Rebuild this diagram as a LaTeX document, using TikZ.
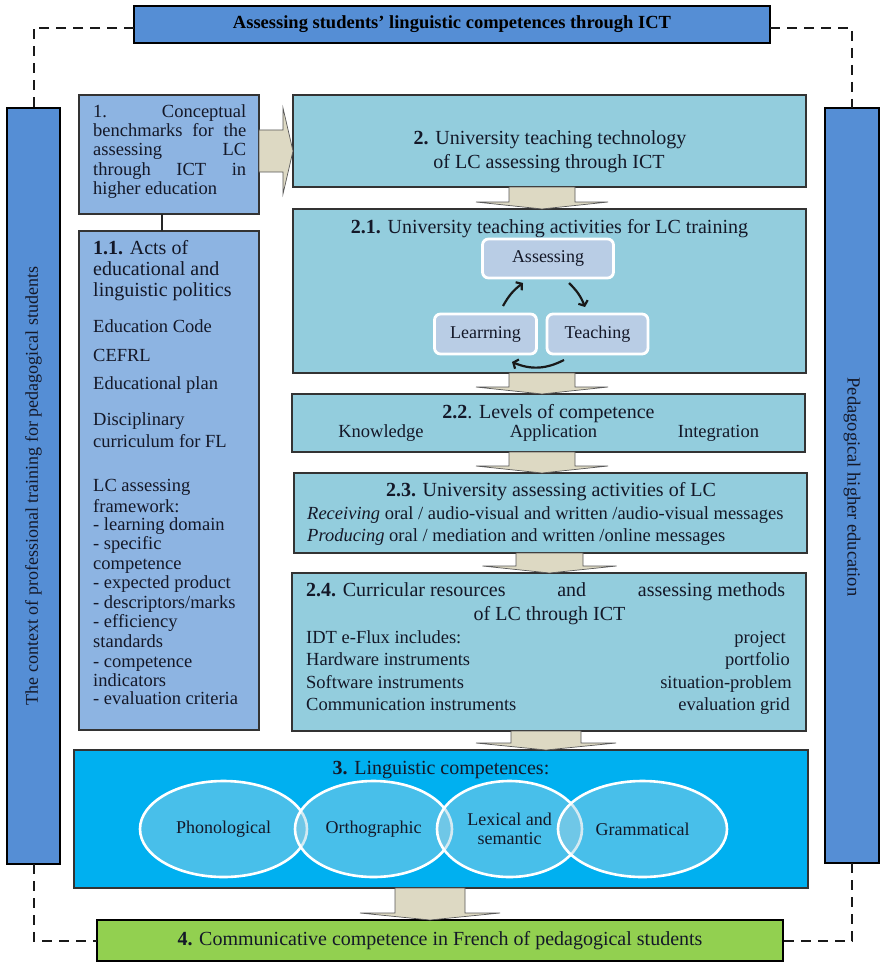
\documentclass[tikz,border=0pt]{standalone}
\usepackage{fontspec}
\setmainfont{Liberation Serif}
\usetikzlibrary{calc,shapes.geometric,arrows.meta}
\definecolor{sideblue}{HTML}{558ED5}
\definecolor{lblue}{HTML}{8DB4E2}
\definecolor{boxteal}{HTML}{93CDDD}
\definecolor{innerfill}{HTML}{B9CDE5}
\definecolor{cyanbox}{HTML}{00B0F0}
\definecolor{greenbox}{HTML}{92D050}
\definecolor{arrowtan}{HTML}{DDD9C3}
\definecolor{ellfill}{HTML}{A0D2E4}
\definecolor{txt}{HTML}{141828}
\newcommand\bodyfont{\fontsize{18.5}{21}\selectfont}
\newcommand\titlefont{\fontsize{20}{23}\selectfont}
\newcommand\blockdown[4]{%
  \draw[blockarrow] let \p1=(#1.south), \p2=(#2.north) in
    ({#3pt-#4pt},{\y1}) -- ({#3pt-#4pt},{\y2+7pt}) -- ({#3pt-2*#4pt},{\y2+7pt})
    -- ({#3pt},{\y2}) -- ({#3pt+2*#4pt},{\y2+7pt}) -- ({#3pt+#4pt},{\y2+7pt})
    -- ({#3pt+#4pt},{\y1}) -- cycle;}
\tikzset{
  every node/.style={text=txt},
  panel/.style={draw=black!80, line width=1.1pt, inner sep=0pt, outer sep=0pt},
  blockarrow/.style={fill=arrowtan, draw=black!65, line width=0.7pt, line join=miter},
  frame/.style={dash pattern=on 10pt off 7pt, line width=2pt, draw=black!90},
  inbox/.style={draw=white, line width=2.8pt, fill=innerfill, rounded corners=6pt,
    inner sep=0pt, font=\fontsize{18}{21}\selectfont},
  ell/.style={ellipse, draw=white, line width=2.6pt, fill=ellfill, fill opacity=0.45,
    text opacity=1, inner sep=0pt, align=center, font=\fontsize{18}{19}\selectfont},
  cyc/.style={line width=2.2pt, draw=black!90, -{Straight Barb[length=4pt,width=10pt]}},
  lab/.style={anchor=base, inner sep=0pt},
  lft/.style={anchor=base west, inner sep=0pt},
  rgt/.style={anchor=base east, inner sep=0pt}
}
\begin{document}
\begin{tikzpicture}[x=1pt,y=-1pt]
\useasboundingbox (0,0) rectangle (882,963);
\fill[white] (0,0) rectangle (882,963);

% frame boxes
\node[panel, line width=1.4pt, draw=black, fill=sideblue, minimum width=636pt, minimum height=37pt,
  text=black, font=\bfseries\fontsize{18.5}{21}\selectfont] (title) at (452,24.5)
  {Assessing students’ linguistic competences through ICT};
\node[panel, line width=1.4pt, draw=black, fill=sideblue, minimum width=53pt, minimum height=756pt] (left) at (33.5,486) {};
\node[panel, line width=1.4pt, draw=black, fill=sideblue, minimum width=54pt, minimum height=755pt] (right) at (852,485.5) {};
\node[rotate=90, inner sep=0pt, font=\fontsize{18}{20}\selectfont] (leftlab) at (left.center)
  {The context of professional training for pedagogical students};
\node[rotate=-90, inner sep=0pt, font=\fontsize{18.5}{20}\selectfont] (rightlab) at (852,487)
  {Pedagogical higher education};

% dashed frame
\draw[frame] ([yshift=-3.5pt]title.west) -| (left.north);
\draw[frame] ([yshift=-3.5pt]title.east) -| (right.north);

% left column
\node[panel, fill=lblue, minimum width=180pt, minimum height=119pt] (b1) at (169,154.5) {};
\node[panel, fill=lblue, minimum width=180pt, minimum height=499pt] (b11) at (169,480.5) {};
\draw[line width=1.6pt, black!85] ([xshift=-7pt]b1.south) -- ([xshift=-7pt]b11.north);

\node[lft, font=\bodyfont] (b1l1) at (93,117.5) {\makebox[153pt][s]{1. Conceptual}};
\node[lft, font=\bodyfont] (b1l2) at (93,136.5) {\makebox[153pt][s]{benchmarks for the}};
\node[lft, font=\bodyfont] (b1l3) at (93,155.5) {\makebox[153pt][s]{assessing LC}};
\node[lft, font=\bodyfont] (b1l4) at (93,175.5) {\makebox[153pt][s]{through ICT in}};
\node[lft, font=\bodyfont] (b1l5) at (93,194.5) {higher education};

\node[lft, font=\titlefont] (h1) at (93,254) {\textbf{1.1.} Acts of};
\node[lft, font=\titlefont] (h2) at (93,275) {educational and};
\node[lft, font=\titlefont] (h3) at (93,296) {linguistic politics};
\foreach \t/\yy [count=\i] in {{Education Code}/327, CEFRL/356, {Educational plan}/384,
  Disciplinary/420, {curriculum for FL}/442, {LC assessing}/486, framework:/507,
  {- learning domain}/525, {- specific}/544, competence/564, {- expected product}/583,
  {- descriptors/marks}/603, {- efficiency}/622, standards/642, {- competence}/662,
  indicators/681, {- evaluation criteria}/699}
  \node[lft, font=\bodyfont] (ll\i) at (93,\yy+5.5) {\t};

% right column boxes
\node[panel, fill=boxteal, minimum width=513pt, minimum height=92pt] (b2) at (549.5,141) {};
\node[panel, fill=boxteal, minimum width=513pt, minimum height=164pt] (b21) at (549.5,291) {};
\node[panel, fill=boxteal, minimum width=513pt, minimum height=58pt] (b22) at (548.5,423) {};
\node[panel, fill=boxteal, minimum width=513pt, minimum height=80pt] (b23) at (550.5,513) {};
\node[panel, fill=boxteal, minimum width=514pt, minimum height=158pt] (b24) at (549,652) {};
\node[panel, fill=cyanbox, minimum width=734pt, minimum height=138pt] (b3) at (441,819) {};
\node[panel, line width=1.4pt, draw=black, fill=greenbox, minimum width=686pt, minimum height=41pt,
  font=\titlefont] (b4) at (440,940.5) {\textbf{4.} Communicative competence in French of pedagogical students};

\draw[frame] (left.south) |- (b4.west);
\draw[frame] (right.south) |- (b4.east);

% box 2
\node[lab, font=\titlefont] (t2a) at (550,144) {\textbf{2.} University teaching technology};
\node[lab, font=\titlefont] (t2b) at (549,168) {of LC assessing through ICT};

% box 2.1
\node[lab, font=\titlefont] (t21) at (549.5,233) {\textbf{2.1.} University teaching activities for LC training};
\node[inbox, minimum width=131pt, minimum height=39pt] (assess) at (548,258.5) {Assessing};
\node[inbox, minimum width=102pt, minimum height=40pt] (learn) at (485.5,334) {Learrning};
\node[inbox, minimum width=101pt, minimum height=40pt] (teach) at (597.5,334) {Teaching};
\coordinate (la1) at (503,306); \coordinate (la2) at (523,283);
\coordinate (at1) at (569,283); \coordinate (at2) at (585,307);
\coordinate (tl1) at (564,360); \coordinate (tl2) at (512,362);
\draw[cyc] (la1) to[bend left=12] (la2);
\draw[cyc] (at1) to[bend left=12] (at2);
\draw[cyc] (tl1) to[bend left=25] (tl2);

% box 2.2
\node[lab, font=\titlefont] (t22) at (548.5,418) {\textbf{2.2}. Levels of competence};
\node[lab, font=\bodyfont] (k1) at (381,437.5) {Knowledge};
\node[lab, font=\bodyfont] (k2) at (553.5,437.5) {Application};
\node[lab, font=\bodyfont] (k3) at (718.5,437.5) {Integration};

% box 2.3
\node[lab, font=\titlefont] (t23) at (551,496) {\textbf{2.3.} University assessing activities of LC};
\node[lft, font=\bodyfont] (r1) at (307,519.5) {\textit{Receiving} oral / audio-visual and written /audio-visual messages};
\node[lft, font=\bodyfont] (r2) at (307,541.5) {\textit{Producing} oral / mediation and written /online messages};

% box 2.4
\node[lft, font=\titlefont] (t24a) at (306,596) {\makebox[479pt][s]{\textbf{2.4.} Curricular resources\hfill and\hfill assessing methods}};
\node[lab, font=\titlefont] (t24b) at (549.5,620) {of LC through ICT};
\node[lft, font=\bodyfont] (c1) at (306,643.5) {IDT e-Flux includes:};
\node[lft, font=\bodyfont] (c2) at (306,665) {Hardware instruments};
\node[lft, font=\bodyfont] (c3) at (306,688) {Software instruments};
\node[lft, font=\bodyfont] (c4) at (306,710) {Communication instruments};
\node[rgt, font=\bodyfont] (m1) at (786,643.5) {project};
\node[rgt, font=\bodyfont] (m2) at (790,665) {portfolio};
\node[rgt, font=\bodyfont] (m3) at (792,688) {situation-problem};
\node[rgt, font=\bodyfont] (m4) at (790,710) {evaluation grid};

% box 3
\node[lab, font=\titlefont] (t3) at (441,774) {\textbf{3.} Linguistic competences:};
\node[ell, minimum width=167pt, minimum height=96pt] (e1) at (223.5,829) {Phonological};
\node[ell, minimum width=157pt, minimum height=96pt] (e2) at (373.5,829) {Orthographic};
\node[ell, minimum width=145pt, minimum height=96pt] (e3) at (509.5,829) {Lexical and\\semantic};
\node[ell, minimum width=169pt, minimum height=96pt] (e4) at (642.5,829) {Grammatical};

% block arrows
\draw[blockarrow] let \p1=(b1.east), \p2=(b2.west) in
  (\x1,130) -- (283,130) -- (283,108) -- (\x2,151) -- (283,194) -- (283,172) -- (\x1,172) -- cycle;
\blockdown{b2}{b21}{542}{33}
\blockdown{b21}{b22}{542}{33}
\blockdown{b22}{b23}{542}{33}
\blockdown{b23}{b24}{549.5}{33.5}
\blockdown{b24}{b3}{546}{35}
\blockdown{b3}{b4}{430}{35}
\end{tikzpicture}
\end{document}
